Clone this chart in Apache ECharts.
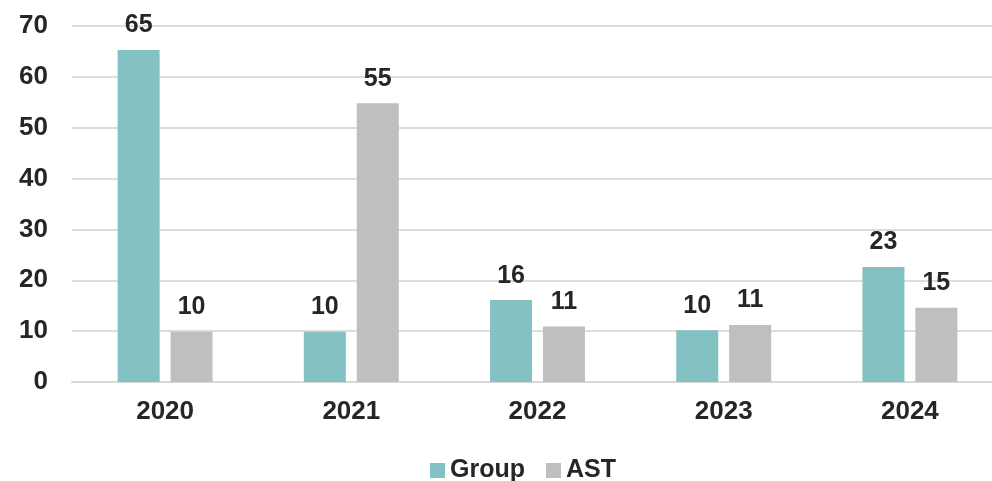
<!DOCTYPE html>
<html>
<head>
<meta charset="utf-8">
<script src="https://cdn.jsdelivr.net/npm/echarts@6/dist/echarts.min.js"></script>
<style>
  html, body { margin: 0; padding: 0; background: #fff; overflow: hidden; }
  /* the original plot runs ~11px past the right edge, so the canvas is a bit wider than the window */
  #chart { width: 1003px; height: 481px; }
</style>
</head>
<body>
<div id="chart"></div>
<script>
  // values; labels show rounded numbers
  var years = ['2020', '2021', '2022', '2023', '2024'];
  var groupValues = [65.3, 9.9, 16.1, 10.2, 22.6];
  var astValues = [9.9, 54.8, 10.9, 11.2, 14.6];
  var seriesNames = ['Group', 'AST'];

  var fontFamily = 'Arial, "Liberation Sans", sans-serif';
  var textColor = '#262626';

  var chart = echarts.init(document.getElementById('chart'));
  chart.setOption({
    animation: false,
    textStyle: { fontFamily: fontFamily },
    grid: {
      left: 72,
      right: 0,
      top: 26,
      bottom: 99
    },
    legend: {
      data: seriesNames,
      left: 425,
      top: 453,
      itemWidth: 15,
      itemHeight: 15,
      itemGap: 21,
      icon: 'rect',
      textStyle: {
        fontSize: 25,
        fontWeight: 'bold',
        color: textColor,
        fontFamily: fontFamily
      }
    },
    xAxis: {
      type: 'category',
      data: years,
      axisLine: { show: true, lineStyle: { color: '#D9D9D9', width: 2 } },
      axisTick: { show: false },
      axisLabel: {
        fontSize: 26,
        fontWeight: 'bold',
        color: textColor,
        margin: 17,
        fontFamily: fontFamily
      }
    },
    yAxis: {
      type: 'value',
      min: 0,
      max: 70,
      interval: 10,
      axisLine: { show: false },
      axisTick: { show: false },
      splitLine: { lineStyle: { color: '#DDDDDD', width: 2 } },
      axisLabel: {
        fontSize: 26,
        fontWeight: 'bold',
        color: textColor,
        margin: 24,
        fontFamily: fontFamily
      }
    },
    series: [
      {
        name: seriesNames[0],
        type: 'bar',
        data: groupValues,
        barWidth: 42,
        barGap: '26%',
        itemStyle: { color: '#84C1C3' },
        label: {
          show: true,
          position: 'top',
          distance: 12,
          fontSize: 25,
          fontWeight: 'bold',
          color: textColor,
          fontFamily: fontFamily,
          formatter: function (p) { return Math.round(p.value); }
        }
      },
      {
        name: seriesNames[1],
        type: 'bar',
        data: astValues,
        barWidth: 42,
        barGap: '26%',
        itemStyle: { color: '#BFBFBF' },
        label: {
          show: true,
          position: 'top',
          distance: 12,
          fontSize: 25,
          fontWeight: 'bold',
          color: textColor,
          fontFamily: fontFamily,
          formatter: function (p) { return Math.round(p.value); }
        }
      }
    ]
  });
</script>
</body>
</html>
